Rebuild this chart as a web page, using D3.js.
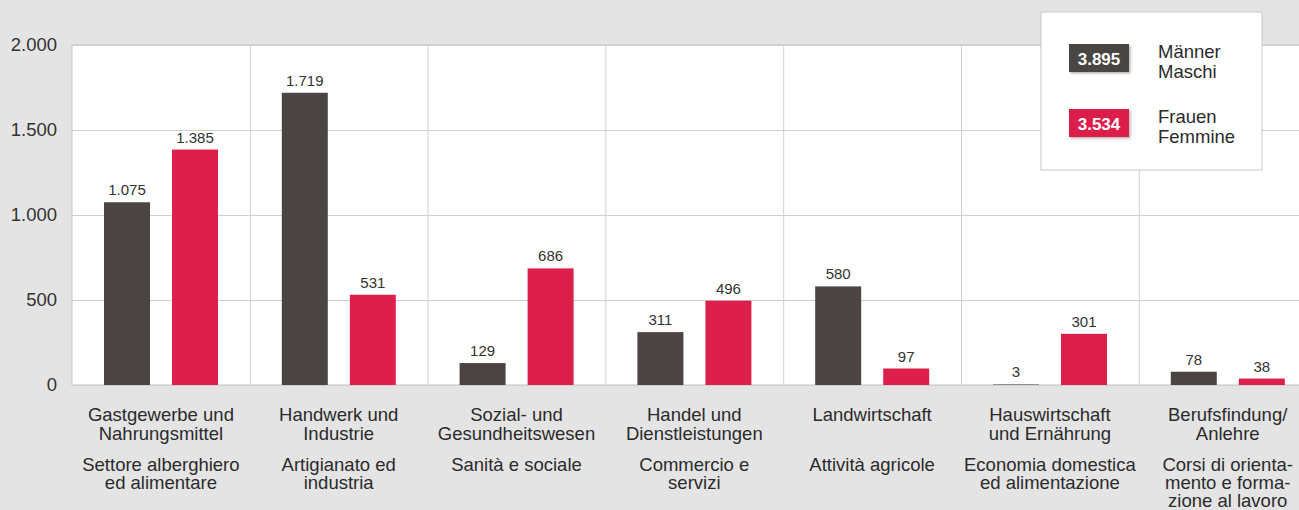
<!DOCTYPE html>
<html lang="de">
<head>
    <meta charset="UTF-8">
    <title>Lehrlinge nach Berufsgruppe</title>
    <script src="https://cdn.jsdelivr.net/npm/d3@7"></script>
    <style>
        body { margin:0; background:#e4e4e4; }
        svg { display:block; font-family:"Liberation Sans", Arial, sans-serif; }
    </style>
</head>
<body>
    <svg id="mainsvg" width="1299" height="510"></svg>
    <script>
        // data
        const categories = ["gast", "handwerk", "sozial", "handel", "land", "haus", "beruf"];
        const labelsDe = [["Gastgewerbe und","Nahrungsmittel"],["Handwerk und","Industrie"],["Sozial- und","Gesundheitswesen"],
            ["Handel und","Dienstleistungen"],["Landwirtschaft"],["Hauswirtschaft","und Ernährung"],["Berufsfindung/","Anlehre"]];
        const labelsIt = [["Settore alberghiero","ed alimentare"],["Artigianato ed","industria"],["Sanità e sociale"],
            ["Commercio e","servizi"],["Attività agricole"],["Economia domestica","ed alimentazione"],["Corsi di orienta-","mento e forma-","zione al lavoro"]];
        const series = ["m", "f"];
        const seriesNames = [["Männer","Maschi"],["Frauen","Femmine"]];
        const maenner = [1075, 1719, 129, 311, 580, 3, 78];
        const frauen = [1385, 531, 686, 496, 97, 301, 38];
        const yTicks = [0, 500, 1000, 1500, 2000];

        const colors = {m:"#4a4543", f:"#dc1f4b"};
        const values = {m: maenner, f: frauen};
        const loc = d3.formatLocale({decimal:",", thousands:".", grouping:[3], currency:["","€"]});
        const fmt = loc.format(",d");

        const svg = d3.select("#mainsvg");
        const margin = {top:45, left:72, bottom:125};
        const height = +svg.attr("height");
        const bandW = 177.8;

        const defs = svg.append("defs");
        const sh = defs.append("filter").attr("id","shadow").attr("x","-20%").attr("y","-20%").attr("width","150%").attr("height","160%");
        sh.append("feDropShadow").attr("dx",1.5).attr("dy",1.5).attr("stdDeviation",1.2).attr("flood-color","#000").attr("flood-opacity",0.3);

        const xScale = d3.scaleBand().domain(categories).range([margin.left, margin.left + bandW*categories.length]);
        const xInner = d3.scaleBand().domain(series).range([32, 146]).paddingInner(0.324);
        const yScale = d3.scaleLinear().domain([0, 2000]).range([height - margin.bottom, margin.top]);

        // plot area
        svg.append("rect")
            .attr("x", margin.left).attr("y", yScale(2000))
            .attr("width", bandW*categories.length).attr("height", yScale(0) - yScale(2000))
            .attr("fill", "#fff").attr("stroke", "#c4c4c4");

        // horizontal grid
        svg.append("g").selectAll("line").data(yTicks).join("line")
            .attr("x1", margin.left).attr("x2", margin.left + bandW*categories.length)
            .attr("y1", d => yScale(d) + 0.5).attr("y2", d => yScale(d) + 0.5)
            .attr("stroke", "#cfcfcf");

        // vertical separators
        svg.append("g").selectAll("line").data(categories.slice(1)).join("line")
            .attr("x1", d => xScale(d) + 0.5).attr("x2", d => xScale(d) + 0.5)
            .attr("y1", yScale(2000)).attr("y2", yScale(0))
            .attr("stroke", "#d2d2d2");

        // y axis labels
        const yAxis = d3.axisLeft(yScale).tickValues(yTicks).tickFormat(fmt).tickSize(0).tickPadding(15);
        const ya = svg.append("g").attr("transform", `translate(${margin.left},0)`).call(yAxis);
        ya.select(".domain").remove();
        ya.selectAll("text").attr("font-size", "18.5px").attr("fill", "#333")
            .attr("font-family", "'Liberation Sans', Arial, sans-serif");

        // bars
        const cat = svg.append("g").selectAll("g").data(categories).join("g")
            .attr("transform", d => `translate(${xScale(d)},0)`);

        series.forEach(s => {
            cat.append("rect")
                .attr("x", xInner(s))
                .attr("y", (d, i) => yScale(values[s][i]))
                .attr("width", xInner.bandwidth())
                .attr("height", (d, i) => yScale(0) - yScale(values[s][i]))
                .attr("fill", colors[s]);
            cat.append("text")
                .attr("x", xInner(s) + xInner.bandwidth()/2)
                .attr("y", (d, i) => yScale(values[s][i]) - 7)
                .attr("text-anchor", "middle")
                .attr("font-size", "15px").attr("fill", "#333")
                .text((d, i) => fmt(values[s][i]));
        });

        // category labels
        cat.each(function(d, i) {
            const g = d3.select(this);
            const cx = xScale.bandwidth()/2;
            labelsDe[i].forEach((t, j) => {
                g.append("text").attr("x", cx).attr("y", 420.5 + j*19)
                    .attr("text-anchor", "middle").attr("font-size", "18.5px").attr("fill", "#2b2b2b").text(t);
            });
            labelsIt[i].forEach((t, j) => {
                g.append("text").attr("x", cx).attr("y", 470.5 + j*18.3)
                    .attr("text-anchor", "middle").attr("font-size", "18.5px").attr("fill", "#2b2b2b").text(t);
            });
        });

        // legend
        const legend = svg.append("g").attr("transform", "translate(1041,12)");
        legend.append("rect").attr("width", 221).attr("height", 158)
            .attr("fill", "#fff").attr("stroke", "#c8c8c8");
        const li = legend.selectAll("g").data(series).join("g")
            .attr("transform", (d, i) => `translate(0,${32 + i*65})`);
        li.append("rect").attr("x", 28).attr("width", 60).attr("height", 28)
            .attr("fill", d => colors[d]).attr("filter", "url(#shadow)");
        li.append("text").attr("x", 58).attr("y", 20.5).attr("text-anchor", "middle")
            .attr("font-size", "17px").attr("font-weight", "bold").attr("fill", "#fff")
            .text(d => fmt(d3.sum(values[d])));
        li.each(function(d, i) {
            seriesNames[i].forEach((t, j) => {
                d3.select(this).append("text").attr("x", 117).attr("y", 14 + j*20)
                    .attr("font-size", "18.5px").attr("fill", "#2b2b2b").text(t);
            });
        });
    </script>
</body>
</html>
